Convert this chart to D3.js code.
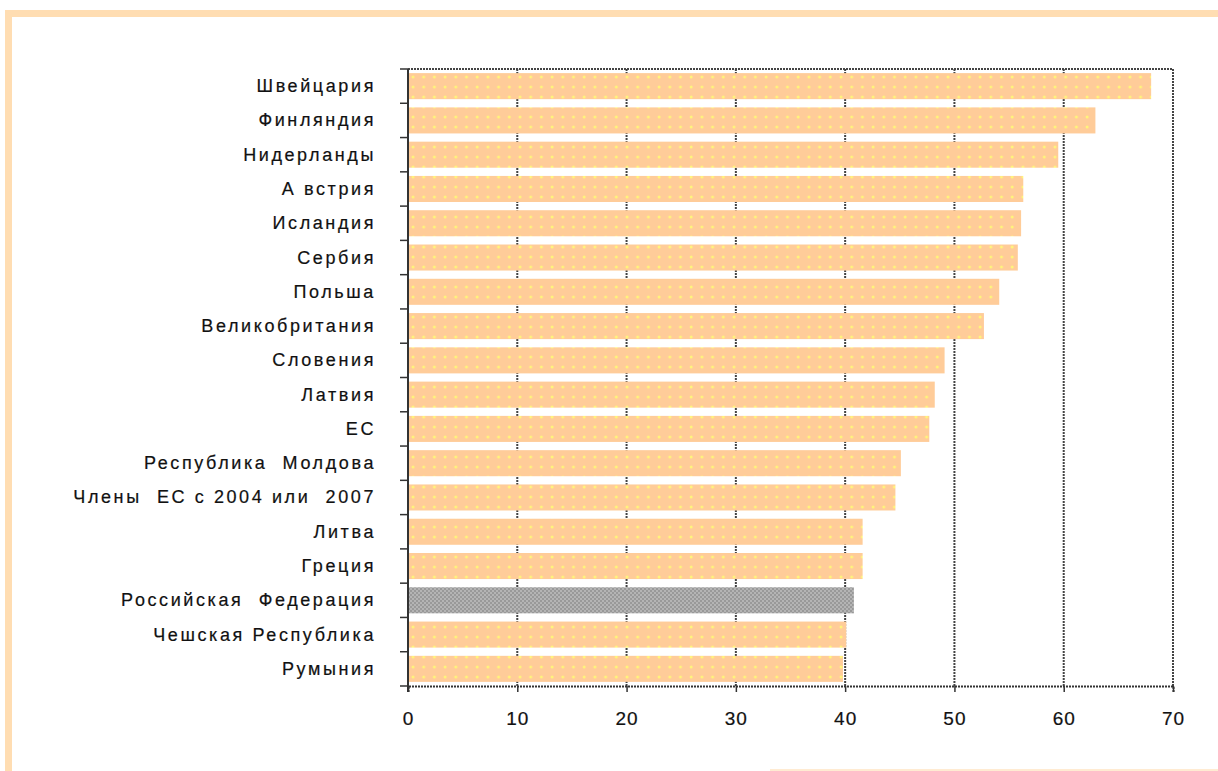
<!DOCTYPE html>
<html>
<head>
<meta charset="utf-8">
<script src="https://cdn.jsdelivr.net/npm/d3@7"></script>
<style>
  html, body { margin: 0; padding: 0; background: #fff; }
  svg { display: block; }
  text { font-family: "Liberation Sans", Arial, sans-serif; fill: #111; }
</style>
</head>
<body>
<svg id="chart" width="1218" height="771"></svg>
<script>
// Countries, top to bottom
const categories = [
  "Швейцария", "Финляндия", "Нидерланды", "А встрия", "Исландия", "Сербия",
  "Польша", "Великобритания", "Словения", "Латвия", "ЕС", "Республика  Молдова",
  "Члены  ЕС с 2004 или  2007", "Литва", "Греция", "Российская  Федерация",
  "Чешская Республика", "Румыния"
];
const values = [
  68.0, 62.9, 59.5, 56.3, 56.1, 55.8,
  54.1, 52.7, 49.1, 48.2, 47.7, 45.1,
  44.6, 41.6, 41.6, 40.8,
  40.1, 39.8
];
const highlighted = ["Российская  Федерация"];
const xTicks = [0, 10, 20, 30, 40, 50, 60, 70];

const svg = d3.select("#chart");

// Peach frame around the chart
const frame = "#FFDDB2";
svg.append("rect").attr("x", 5).attr("y", 10).attr("width", 1213).attr("height", 7).attr("fill", frame);
svg.append("rect").attr("x", 5).attr("y", 10).attr("width", 7).attr("height", 761).attr("fill", frame);
svg.append("rect").attr("x", 770).attr("y", 769).attr("width", 448).attr("height", 2).attr("fill", "#FFEBD2");

const plot = { left: 408, right: 1173, top: 69, bottom: 686 };

const x = d3.scaleLinear().domain([0, 70]).range([plot.left, plot.right]);
const y = d3.scaleBand().domain(categories).range([plot.top, plot.bottom]).paddingInner(0.24).paddingOuter(0.12);

// Fill patterns
const defs = svg.append("defs");
const dots = defs.append("pattern").attr("id", "dots").attr("patternUnits", "userSpaceOnUse")
  .attr("width", 10.7).attr("height", 10).attr("x", plot.left).attr("y", 2);
dots.append("rect").attr("width", 10.7).attr("height", 10).attr("fill", "#FFCC99");
dots.append("circle").attr("cx", 5).attr("cy", 5).attr("r", 1.5).attr("fill", "#FFF57A");

const hatch = defs.append("pattern").attr("id", "hatch").attr("patternUnits", "userSpaceOnUse")
  .attr("width", 4).attr("height", 4);
hatch.append("rect").attr("width", 4).attr("height", 4).attr("fill", "#B4B4B4");
hatch.append("rect").attr("width", 2).attr("height", 2).attr("fill", "#999999");
hatch.append("rect").attr("x", 2).attr("y", 2).attr("width", 2).attr("height", 2).attr("fill", "#999999");

// Vertical dotted gridlines
const grid = svg.append("g");
grid.selectAll("line").data(xTicks.slice(1)).join("line")
  .attr("x1", d => x(d)).attr("x2", d => x(d))
  .attr("y1", plot.top).attr("y2", plot.bottom)
  .attr("stroke", "#444").attr("stroke-width", 2).attr("stroke-dasharray", "2,1");
// Top border of plot area
grid.append("line").attr("x1", plot.left).attr("x2", plot.right)
  .attr("y1", plot.top).attr("y2", plot.top)
  .attr("stroke", "#444").attr("stroke-width", 2).attr("stroke-dasharray", "2,1");

// Bars
svg.append("g").selectAll("rect").data(categories).join("rect")
  .attr("x", x(0))
  .attr("y", d => y(d))
  .attr("width", (d, i) => x(values[i]) - x(0))
  .attr("height", y.bandwidth())
  .attr("fill", d => highlighted.includes(d) ? "url(#hatch)" : "url(#dots)");

// Category separators on the left axis
const sepY = d3.range(categories.length + 1).map(i => plot.top + i * (plot.bottom - plot.top) / categories.length);
svg.append("g").selectAll("line").data(sepY).join("line")
  .attr("x1", plot.left - 8).attr("x2", plot.left)
  .attr("y1", d => d).attr("y2", d => d)
  .attr("stroke", "#333").attr("stroke-width", 1.5);

// Left axis line
svg.append("line").attr("x1", plot.left).attr("x2", plot.left)
  .attr("y1", plot.top).attr("y2", plot.bottom + 6)
  .attr("stroke", "#333").attr("stroke-width", 2);

// Bottom axis
const xAxis = svg.append("g").attr("transform", `translate(0,${plot.bottom})`)
  .call(d3.axisBottom(x).tickValues(xTicks).tickSize(6).tickPadding(20));
xAxis.select(".domain").attr("stroke", "#333").attr("stroke-width", 2).attr("stroke-dasharray", "2,1");
xAxis.selectAll(".tick line").attr("stroke", "#333").attr("stroke-width", 1.5);
xAxis.selectAll(".tick text")
  .style("font-family", "'Liberation Sans', Arial, sans-serif")
  .style("font-size", "19px").style("letter-spacing", "1px")
  .attr("fill", "#111").attr("stroke", "#111").attr("stroke-width", 0.2);

// Category labels
svg.append("g").selectAll("text").data(categories).join("text")
  .attr("x", 376)
  .attr("y", d => y(d) + y.bandwidth() / 2)
  .attr("text-anchor", "end")
  .attr("dominant-baseline", "central")
  .attr("xml:space", "preserve")
  .style("white-space", "pre")
  .style("font-size", "18px")
  .style("letter-spacing", "2.6px")
  .attr("stroke", "#111").attr("stroke-width", 0.2)
  .text(d => d);
</script>
</body>
</html>
